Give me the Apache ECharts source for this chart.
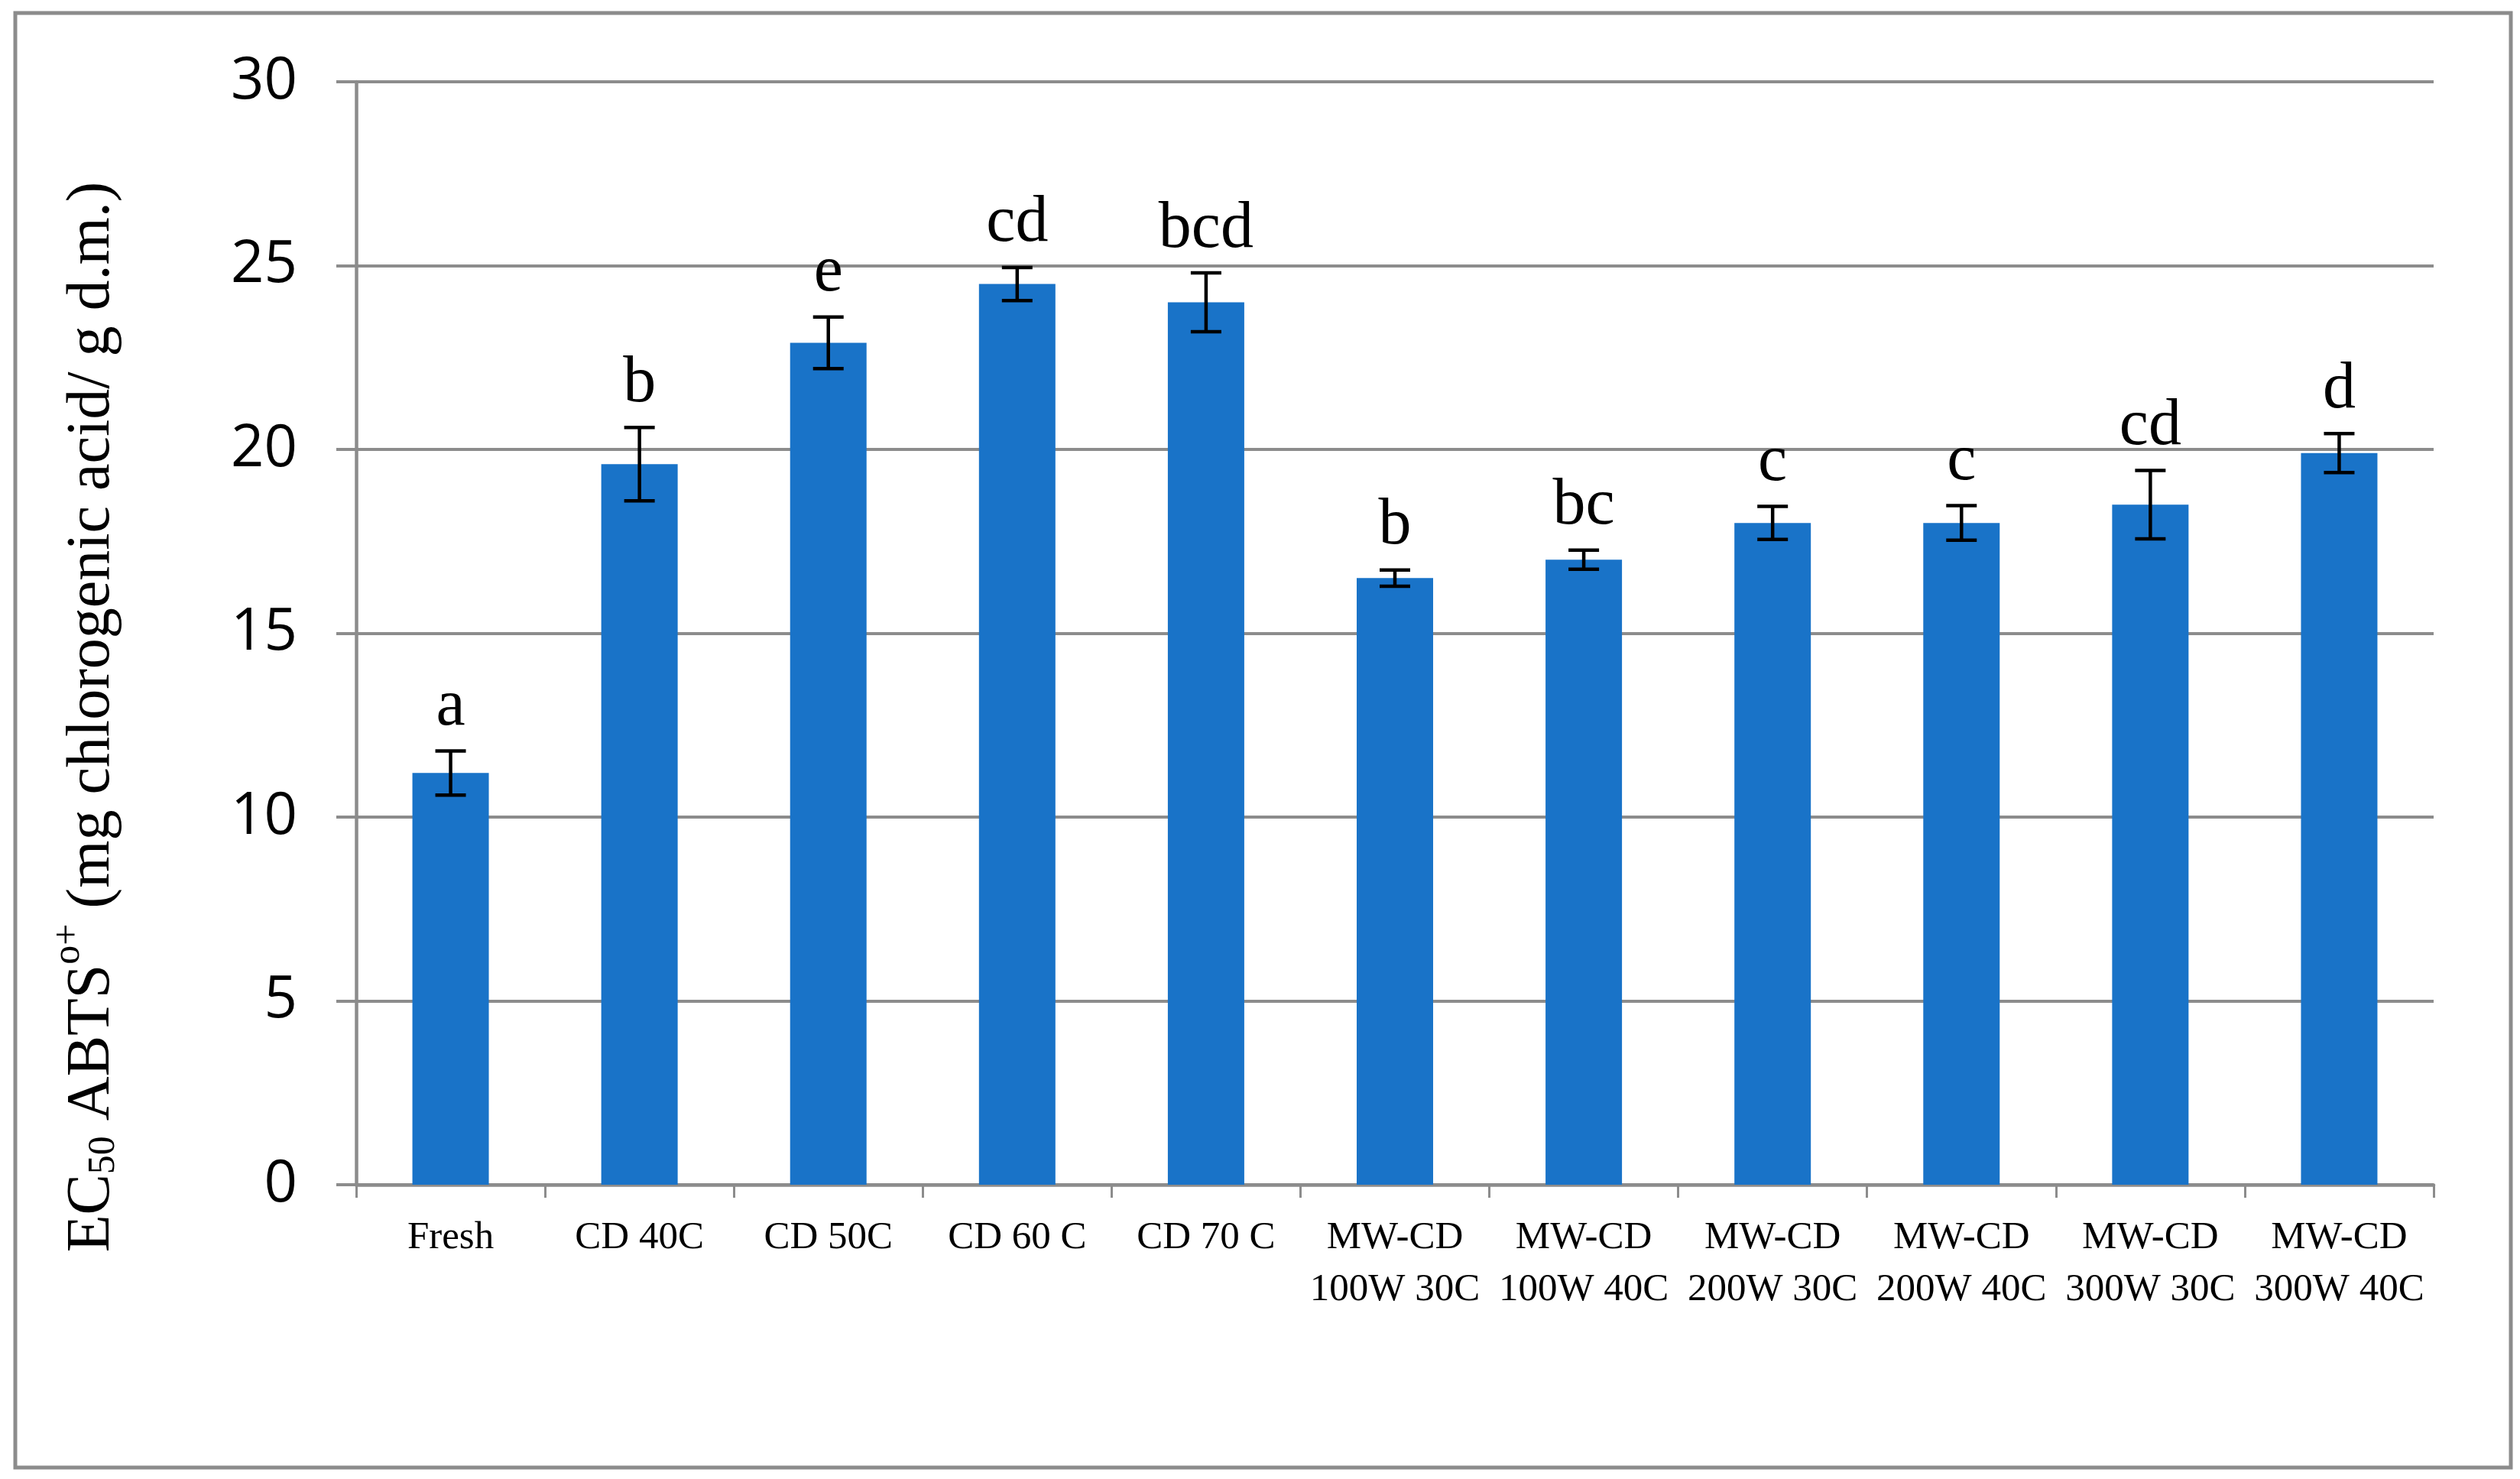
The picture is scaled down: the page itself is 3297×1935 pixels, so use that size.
<!DOCTYPE html>
<html>
<head>
<meta charset="utf-8">
<title>EC50 ABTS</title>
<script src="https://cdn.jsdelivr.net/npm/echarts@6/dist/echarts.min.js"></script>
<style>
	html, body { margin: 0; padding: 0; background: #ffffff; }
	#chart { width: 3297px; height: 1935px; }
</style>
</head>
<body>
<div id="chart"></div>
<script>
/*
 * 데이터
 */
var categories = [
	"Fresh", "CD 40C", "CD 50C", "CD 60 C", "CD 70 C",
	"MW-CD\n100W 30C", "MW-CD\n100W 40C", "MW-CD\n200W 30C",
	"MW-CD\n200W 40C", "MW-CD\n300W 30C", "MW-CD\n300W 40C"
];
var ec50Values = [11.2, 19.6, 22.9, 24.5, 24.0, 16.5, 17.0, 18.0, 18.0, 18.5, 19.9];
var ec50Errors = [0.6, 1.0, 0.7, 0.45, 0.8, 0.22, 0.26, 0.45, 0.47, 0.93, 0.53];
var groupLetters = ["a", "b", "e", "cd", "bcd", "b", "bc", "c", "c", "cd", "d"];
var yTicks = [0, 5, 10, 15, 20, 25, 30];

var GRAY = "#8c8c8c";
var BAR_COLOR = "#1973c8";
var SERIF = "'Liberation Serif', 'Times New Roman', serif";

var voChart = echarts.init(document.getElementById("chart"), null, { renderer: "canvas" });

/**
 * 오차 막대와 유의성 문자를 그립니다.
 */
function renderErrorBar(params, api) {
	var idx = api.value(0);
	var val = api.value(1);
	var err = api.value(2);
	var top = api.coord([idx, val + err]);
	var bottom = api.coord([idx, val - err]);
	var capHalf = 20;
	var lineStyle = { stroke: "#000000", lineWidth: 4.5 };
	return {
		type: "group",
		children: [
			{ type: "line", shape: { x1: top[0], y1: top[1], x2: bottom[0], y2: bottom[1] }, style: lineStyle },
			{ type: "line", shape: { x1: top[0] - capHalf, y1: top[1], x2: top[0] + capHalf, y2: top[1] }, style: lineStyle },
			{ type: "line", shape: { x1: bottom[0] - capHalf, y1: bottom[1], x2: bottom[0] + capHalf, y2: bottom[1] }, style: lineStyle },
			{
				type: "text",
				style: {
					text: groupLetters[params.dataIndex],
					x: top[0],
					y: top[1] - 14,
					align: "center",
					verticalAlign: "bottom",
					font: "86px " + SERIF,
					fill: "#000000"
				}
			}
		]
	};
}

var errorData = ec50Values.map(function(v, i) {
	return [i, v, ec50Errors[i]];
});

var voOption = {
	backgroundColor: "#ffffff",
	animation: false,
	grid: {
		left: 466,
		right: 113,
		top: 107,
		bottom: 385,
		containLabel: false
	},
	xAxis: {
		type: "category",
		data: categories,
		boundaryGap: true,
		axisLine: { show: true, lineStyle: { color: GRAY, width: 4.5 } },
		axisTick: { show: true, length: 17, lineStyle: { color: GRAY, width: 3 } },
		axisLabel: {
			interval: 0,
			margin: 36,
			color: "#000000",
			fontFamily: SERIF,
			fontSize: 51,
			lineHeight: 68
		},
		splitLine: { show: false }
	},
	yAxis: {
		type: "value",
		min: yTicks[0],
		max: yTicks[yTicks.length - 1],
		interval: 5,
		axisLine: { show: true, lineStyle: { color: GRAY, width: 4.5 } },
		axisTick: { show: true, length: 26, lineStyle: { color: GRAY, width: 4 } },
		axisLabel: {
			margin: 77,
			color: "#000000",
			fontFamily: "'Open Sans', sans-serif",
			fontSize: 76
		},
		splitLine: { show: true, lineStyle: { color: GRAY, width: 4 } }
	},
	graphic: [
		{
			type: "rect",
			shape: { x: 20, y: 17, width: 3265, height: 1903 },
			style: { fill: null, stroke: GRAY, lineWidth: 5 },
			silent: true
		},
		{
			type: "text",
			x: 113,
			y: 938,
			rotation: Math.PI / 2,
			style: {
				text: "{m|EC}{sub|50}{m| ABTS}{sup|o+}{m| (mg chlorogenic acid/ g d.m.)}",
				align: "center",
				verticalAlign: "middle",
				fill: "#000000",
				rich: {
					m: { fontFamily: SERIF, fontSize: 80, lineHeight: 96, verticalAlign: "bottom" },
					sub: { fontFamily: SERIF, fontSize: 50, lineHeight: 60, verticalAlign: "bottom" },
					sup: { fontFamily: SERIF, fontSize: 50, lineHeight: 60, verticalAlign: "top" }
				}
			}
		}
	],
	series: [
		{
			type: "bar",
			data: ec50Values,
			barWidth: 100,
			itemStyle: { color: BAR_COLOR },
			z: 2
		},
		{
			type: "custom",
			data: errorData,
			renderItem: renderErrorBar,
			encode: { x: 0, y: 1 },
			z: 3
		}
	]
};

voChart.setOption(voOption);

window.addEventListener("resize", function() {
	voChart.resize();
});
</script>
</body>
</html>
